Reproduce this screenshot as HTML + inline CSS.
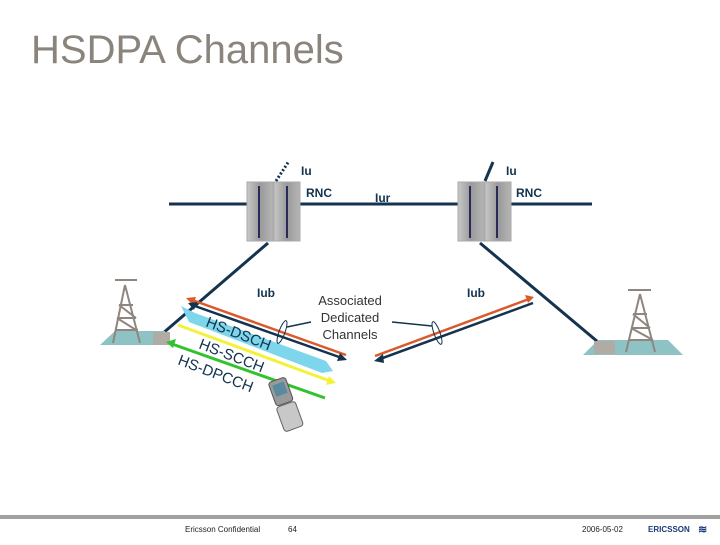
<!DOCTYPE html>
<html><head><meta charset="utf-8"><style>
body{margin:0;width:720px;height:540px;background:#fff;overflow:hidden;font-family:"Liberation Sans",sans-serif;}
</style></head><body>
<svg width="720" height="540" viewBox="0 0 720 540" xmlns="http://www.w3.org/2000/svg" font-family="Liberation Sans, sans-serif">
<defs>
<linearGradient id="rg" x1="0" x2="1"><stop offset="0" stop-color="#c8c8c8"/><stop offset="0.5" stop-color="#9a9a9a"/><stop offset="1" stop-color="#b5b5b5"/></linearGradient>
</defs>
<text x="31" y="63" font-size="40" fill="#8a847c">HSDPA Channels</text>
<line x1="169" y1="204" x2="592" y2="204" stroke="#13334f" stroke-width="3"/>
<line x1="276" y1="181" x2="289" y2="161" stroke="#13334f" stroke-width="3" stroke-dasharray="2,2"/>
<line x1="485" y1="181" x2="493" y2="162" stroke="#13334f" stroke-width="3"/>
<line x1="268" y1="243" x2="162" y2="334" stroke="#13334f" stroke-width="3"/>
<line x1="480" y1="243" x2="598" y2="342" stroke="#13334f" stroke-width="3"/>
<g>
<rect x="247" y="182" width="26" height="59" fill="url(#rg)" stroke="#aaa"/>
<rect x="274" y="182" width="26" height="59" fill="url(#rg)" stroke="#aaa"/>
<line x1="259" y1="186" x2="259" y2="238" stroke="#2a2a5a" stroke-width="2"/>
<line x1="287" y1="186" x2="287" y2="238" stroke="#2a2a5a" stroke-width="2"/>
<rect x="458" y="182" width="26" height="59" fill="url(#rg)" stroke="#aaa"/>
<rect x="485" y="182" width="26" height="59" fill="url(#rg)" stroke="#aaa"/>
<line x1="470" y1="186" x2="470" y2="238" stroke="#2a2a5a" stroke-width="2"/>
<line x1="497" y1="186" x2="497" y2="238" stroke="#2a2a5a" stroke-width="2"/>
</g>
<g font-size="12" font-weight="bold" fill="#13334f">
<text x="301" y="175">Iu</text><text x="306" y="197">RNC</text><text x="375" y="202">Iur</text>
<text x="506" y="175">Iu</text><text x="516" y="197">RNC</text>
<text x="257" y="297">Iub</text><text x="467" y="297">Iub</text>
</g>
<polygon points="100,345 115,331 165,331 170,345" fill="#8fc2c4"/>
<rect x="153" y="332" width="17" height="13" fill="#b0aba5"/>
<g stroke="#8f877f" stroke-width="2" fill="none">
<path d="M125,285 L113,343 M125,285 L140,343 M117,318 L136,318 M119,305 L133,305 M115,330 L138,330 M117,318 L136,330 M119,305 L136,318"/>
<line x1="115" y1="280" x2="137" y2="280"/>
</g>
<polygon points="583,355 598,340 668,340 683,355" fill="#8fc2c4"/>
<rect x="594" y="341" width="21" height="13" fill="#b0aba5"/>
<g stroke="#8f877f" stroke-width="2" fill="none">
<path d="M640,294 L626,352 M640,294 L655,352 M631,328 L650,328 M633,314 L647,314 M629,340 L653,340 M633,314 L650,328 M631,328 L653,340"/>
<line x1="628" y1="290" x2="651" y2="290"/>
</g>
<polygon points="181,306 189,322 322,373 333,371 326,361 195,313" fill="#7dd6ec"/>
<line x1="346" y1="355" x2="192" y2="300" stroke="#d95a2b" stroke-width="2.5"/>
<polygon points="186,298 196,297 193,305" fill="#d95a2b"/>
<line x1="192" y1="305" x2="342" y2="358" stroke="#13334f" stroke-width="2.5"/>
<polygon points="188,303 197,302 194,310" fill="#13334f"/>
<polygon points="347,360 337,361 340,353" fill="#13334f"/>
<line x1="178" y1="325" x2="330" y2="381" stroke="#f2f23a" stroke-width="3"/>
<polygon points="336,383 326,385 329,376" fill="#f2f23a"/>
<line x1="325" y1="398" x2="172" y2="344" stroke="#32c22e" stroke-width="3"/>
<polygon points="166,342 176,339 173,348" fill="#32c22e"/>
<line x1="375" y1="356" x2="529" y2="299" stroke="#d95a2b" stroke-width="2.5"/>
<polygon points="534,297 525,295 528,303" fill="#d95a2b"/>
<line x1="380" y1="359" x2="533" y2="303" stroke="#13334f" stroke-width="2.5"/>
<polygon points="374,361 383,354 384,363" fill="#13334f"/>
<g font-size="15" fill="#13334f">
<text x="205" y="326" transform="rotate(21 205 326)">HS-DSCH</text>
<text x="198" y="348" transform="rotate(21 198 348)">HS-SCCH</text>
<text x="177" y="364" transform="rotate(21 177 364)">HS-DPCCH</text>
</g>
<g transform="rotate(-20 286 403)">
<rect x="276" y="378" width="18" height="25" rx="3" fill="#9a9a9a" stroke="#555"/>
<rect x="279" y="382" width="12" height="12" fill="#5a8aa0"/>
<rect x="275" y="404" width="20" height="26" rx="3" fill="#c8c8c8" stroke="#666"/>
</g>
<g font-size="13" fill="#333" text-anchor="middle">
<text x="350" y="305">Associated</text><text x="350" y="322">Dedicated</text><text x="350" y="339">Channels</text>
</g>
<line x1="287" y1="327" x2="311" y2="322" stroke="#13334f" stroke-width="1.5"/>
<line x1="392" y1="322" x2="432" y2="326" stroke="#13334f" stroke-width="1.5"/>
<ellipse cx="282" cy="332" rx="3" ry="12" transform="rotate(20 282 332)" fill="none" stroke="#13334f"/>
<ellipse cx="437" cy="333" rx="3" ry="12" transform="rotate(-20 437 333)" fill="none" stroke="#13334f"/>
<rect x="0" y="515" width="720" height="4" fill="#a0a0a0"/>
<g font-size="8" fill="#222">
<text x="185" y="532">Ericsson Confidential</text>
<text x="288" y="532">64</text>
<text x="582" y="532">2006-05-02</text>
</g>
<text x="648" y="532" font-size="8" font-weight="bold" fill="#1b3a7a">ERICSSON</text>
<text x="698" y="533" font-size="11" font-weight="bold" fill="#1b3a7a">≋</text>
</svg>
</body></html>
